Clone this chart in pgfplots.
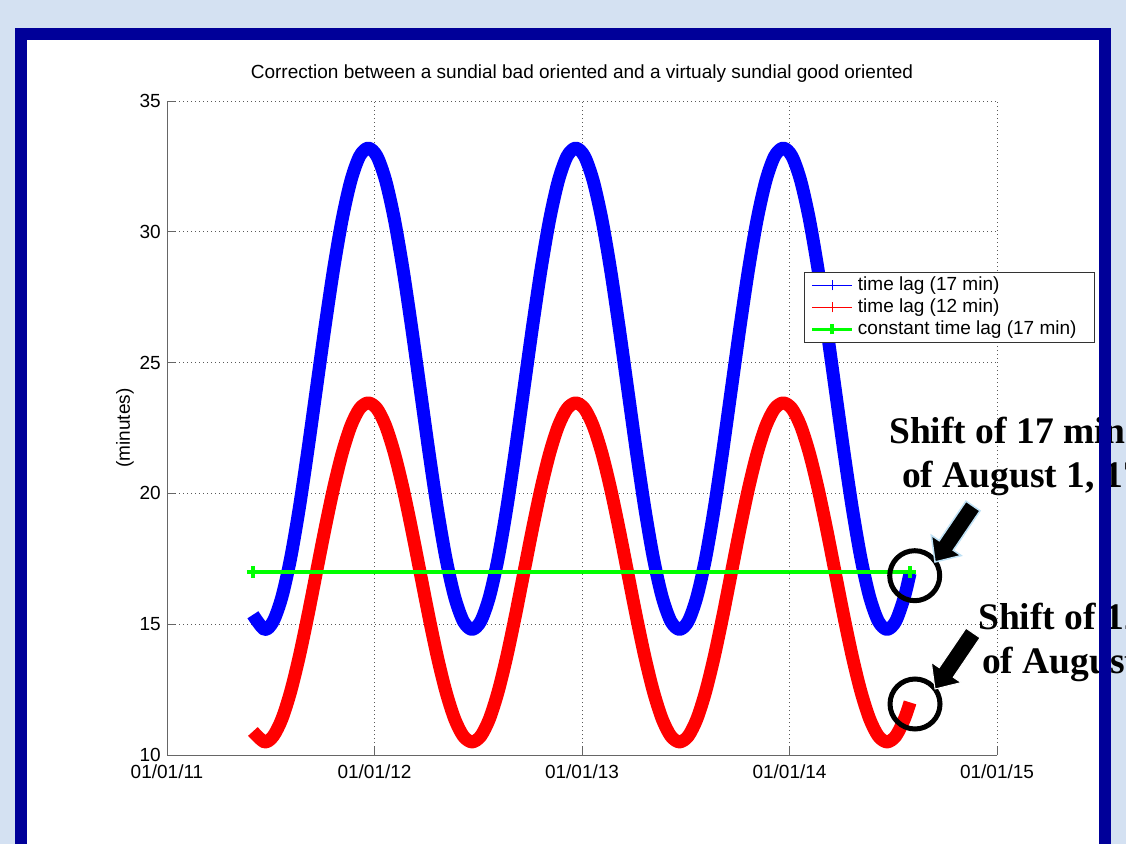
\documentclass[border=0pt]{standalone}
\usepackage{fontspec}
\setmainfont{Liberation Sans}
\newfontfamily\tnr{Liberation Serif}
\usepackage{pgfplots}
\usepackage{pgfplotstable}
\pgfplotsset{compat=1.18}

\definecolor{bgblue}{RGB}{212,225,242}
\definecolor{frameblue}{RGB}{0,0,153}
\definecolor{mblue}{RGB}{0,0,255}
\definecolor{mred}{RGB}{255,0,0}
\definecolor{mgreen}{RGB}{0,255,0}
\definecolor{arrowglow}{RGB}{190,225,245}

% t = year, blue = time lag (17 min), red = time lag (12 min)
\pgfplotstableread{
t blue red
2011.4140 15.36 10.90
2011.4700 14.80 10.50
2011.5117 15.11 10.72
2011.5533 16.03 11.37
2011.5950 17.49 12.40
2011.6367 19.40 13.74
2011.6783 21.62 15.30
2011.7200 24.00 16.98
2011.7617 26.38 18.66
2011.8033 28.60 20.22
2011.8450 30.51 21.56
2011.8867 31.97 22.59
2011.9283 32.89 23.24
2011.9700 33.20 23.46
2012.0117 32.89 23.24
2012.0533 31.97 22.59
2012.0950 30.51 21.56
2012.1367 28.60 20.22
2012.1783 26.38 18.66
2012.2200 24.00 16.98
2012.2617 21.62 15.30
2012.3033 19.40 13.74
2012.3450 17.49 12.40
2012.3867 16.03 11.37
2012.4283 15.11 10.72
2012.4700 14.80 10.50
2012.5117 15.11 10.72
2012.5533 16.03 11.37
2012.5950 17.49 12.40
2012.6367 19.40 13.74
2012.6783 21.62 15.30
2012.7200 24.00 16.98
2012.7617 26.38 18.66
2012.8033 28.60 20.22
2012.8450 30.51 21.56
2012.8867 31.97 22.59
2012.9283 32.89 23.24
2012.9700 33.20 23.46
2013.0117 32.89 23.24
2013.0533 31.97 22.59
2013.0950 30.51 21.56
2013.1367 28.60 20.22
2013.1783 26.38 18.66
2013.2200 24.00 16.98
2013.2617 21.62 15.30
2013.3033 19.40 13.74
2013.3450 17.49 12.40
2013.3867 16.03 11.37
2013.4283 15.11 10.72
2013.4700 14.80 10.50
2013.5117 15.11 10.72
2013.5533 16.03 11.37
2013.5950 17.49 12.40
2013.6367 19.40 13.74
2013.6783 21.62 15.30
2013.7200 24.00 16.98
2013.7617 26.38 18.66
2013.8033 28.60 20.22
2013.8450 30.51 21.56
2013.8867 31.97 22.59
2013.9283 32.89 23.24
2013.9700 33.20 23.46
2014.0117 32.89 23.24
2014.0533 31.97 22.59
2014.0950 30.51 21.56
2014.1367 28.60 20.22
2014.1783 26.38 18.66
2014.2200 24.00 16.98
2014.2617 21.62 15.30
2014.3033 19.40 13.74
2014.3450 17.49 12.40
2014.3867 16.03 11.37
2014.4283 15.11 10.72
2014.4700 14.80 10.50
2014.5117 15.11 10.72
2014.5533 16.03 11.37
2014.5810 16.95 12.01
}\lagdata

\begin{document}
\begin{tikzpicture}[x=1pt,y=1pt]
\path[use as bounding box] (0,0) rectangle (1126,844);
\clip (0,0) rectangle (1126,844);
\fill[bgblue] (0,0) rectangle (1126,844);
\fill[white] (27,0) rectangle (1099,804);

\begin{axis}[
  at={(167pt,89pt)}, anchor=south west,
  width=830pt, height=654pt, scale only axis,
  xmin=2011, xmax=2015, ymin=10, ymax=35,
  axis x line*=bottom, axis y line*=left,
  xtick pos=left, ytick pos=left,
  axis line style={black!60, line width=1pt},
  xtick={2011,2012,2013,2014,2015},
  xticklabels={01/01/11,01/01/12,01/01/13,01/01/14,01/01/15},
  ytick={10,15,20,25,30,35},
  /pgf/number format/assume math mode=true,
  tick align=inside, major tick length=8pt,
  tick style={black!60, line width=0.8pt},
  grid=major,
  grid style={black!65, line width=0.8pt, dash pattern=on 1pt off 3pt},
  tick label style={font=\fontsize{19}{22}\selectfont},
  xticklabel style={anchor=base, yshift=-23pt, inner sep=0pt},
  yticklabel style={anchor=east, xshift=-6pt, inner sep=0pt},
  title={Correction between a sundial bad oriented and a virtualy sundial good oriented},
  title style={at={(axis description cs:0.5,1)}, anchor=base, yshift=16pt, inner sep=0pt, font=\fontsize{19}{22}\selectfont},
  ylabel={(minutes)},
  ylabel style={at={(axis description cs:-0.0506,0.5)}, anchor=center, inner sep=0pt, font=\fontsize{19}{22}\selectfont},
  legend style={at={(axis description cs:0.7675,0.7385)}, anchor=north west,
    draw=black!80, line width=0.8pt, fill=white,
    font=\fontsize{19}{22}\selectfont,
    inner xsep=6pt, inner ysep=2pt, row sep=0pt, column sep=2pt,
    nodes={inner ysep=2pt, inner xsep=2pt, text height=14pt, text depth=4pt},
    cells={anchor=west}},
]
\addplot[mblue, line width=13pt, smooth, line join=round,
  legend image code/.code={\draw[mblue, line width=1.3pt] (0pt,0pt) -- (40pt,0pt); \draw[mblue, line width=1.3pt] (20pt,-5pt) -- (20pt,5pt);}]
  table[x=t, y=blue] {\lagdata};
\addlegendentry{time lag (17 min)}
\addplot[mred, line width=13pt, smooth, line join=round,
  legend image code/.code={\draw[mred, line width=1.3pt] (0pt,0pt) -- (40pt,0pt); \draw[mred, line width=1.3pt] (20pt,-5pt) -- (20pt,5pt);}]
  table[x=t, y=red] {\lagdata};
\addlegendentry{time lag (12 min)}
\addplot[mgreen, line width=4pt, mark=+, mark size=6pt, mark options={line width=3.5pt},
  legend image code/.code={\draw[mgreen, line width=3.5pt] (0pt,0pt) -- (40pt,0pt); \draw[mgreen, line width=3.5pt] (20pt,-5pt) -- (20pt,5pt);}]
  coordinates {(2011.414,17) (2014.581,17)};
\addlegendentry{constant time lag (17 min)\hspace*{10pt}}
\end{axis}

% annotations
\draw[black, line width=5pt] (914.7,268.3) circle (25);
\draw[black, line width=5pt] (915,140) circle (25);
\begin{scope}[yshift=844pt, yscale=-1]
\filldraw[fill=black, draw=arrowglow, line width=1.5pt, line join=miter]
  (966.0,501.2) -- (980.0,510.8) -- (953.27,550.24) -- (961.13,555.58) -- (935,562) -- (931.35,535.34) -- (939.21,540.68) -- cycle;
\filldraw[fill=black, draw=white, line width=1pt, line join=miter]
  (966.0,628.2) -- (980.0,637.8) -- (953.27,677.24) -- (961.13,682.58) -- (935,689) -- (931.35,662.34) -- (939.21,667.68) -- cycle;
\end{scope}
\begin{scope}[every node/.style={anchor=base west, inner sep=0pt, font=\tnr\bfseries\fontsize{37.5}{44}\selectfont}]
\node at (889,400) {Shift of 17 min};
\node at (902,356) {of August 1, 17};
\node at (978,215) {Shift of 12 min};
\node at (982,171) {of August 1, 17};
\end{scope}

% frame
\fill[frameblue] (15,0) rectangle (27,816);
\fill[frameblue] (15,804) rectangle (1111,816);
\fill[frameblue] (1099,0) rectangle (1111,816);
\end{tikzpicture}
\end{document}
